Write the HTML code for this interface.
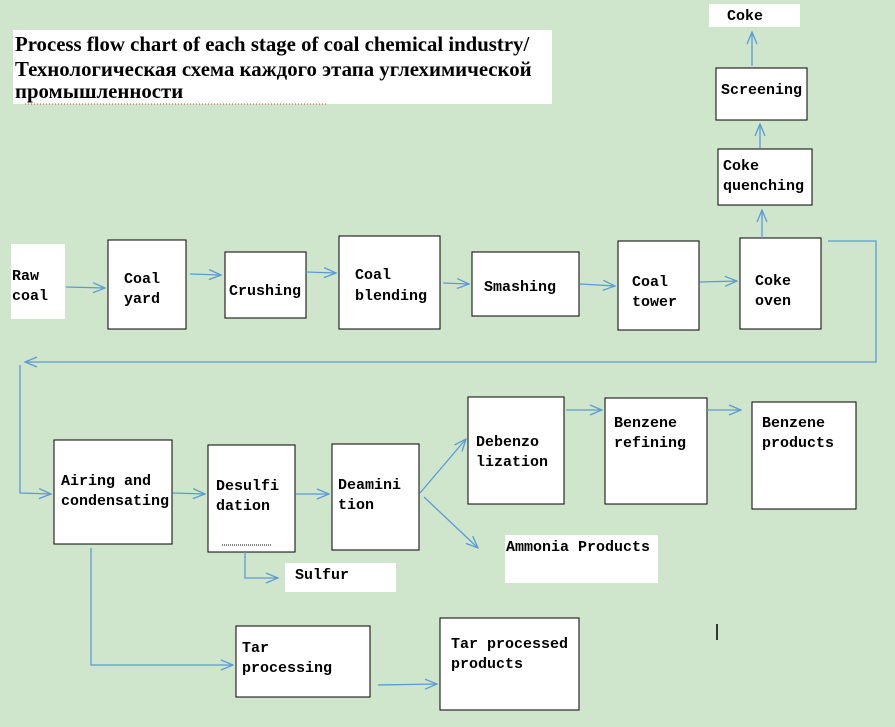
<!DOCTYPE html>
<html><head><meta charset="utf-8"><style>
body{margin:0;background:#cfe6cc;}
svg{display:block}
.t{font-family:"Liberation Mono",monospace;font-size:15px;font-weight:bold;fill:#000}
.b{fill:#fff;stroke:#000;stroke-width:1}
.w{fill:#fff}
.a{stroke:#5b9bd5;stroke-width:1.3;fill:none}
.h{font-family:'Liberation Serif',serif;font-weight:bold;font-size:20.8px}
</style></head><body>
<svg width="895" height="727" viewBox="0 0 895 727" xmlns="http://www.w3.org/2000/svg">
<defs><marker id="m" markerWidth="14" markerHeight="12" refX="13" refY="6" orient="auto" markerUnits="userSpaceOnUse"><path d="M1,1 L13,6 L1,11" fill="none" stroke="#5b9bd5" stroke-width="1.3"/></marker></defs>
<rect x="13" y="30" width="539" height="74" class="w"/>
<text class="h" x="15" y="51">Process flow chart of each stage of coal chemical industry/</text>
<text class="h" x="15" y="76">Технологическая схема каждого этапа углехимической</text>
<text class="h" x="15" y="98">промышленности</text>
<line x1="25" y1="104" x2="328" y2="104" stroke="#c44" stroke-width="1" stroke-dasharray="1,2"/>

<rect x="11" y="244" width="54" height="75" class="w"/>
<text class="t" x="12" y="280">Raw</text><text class="t" x="12" y="300">coal</text>
<rect x="108" y="240" width="78" height="89" class="b"/>
<text class="t" x="124" y="283">Coal</text><text class="t" x="124" y="303">yard</text>
<rect x="225" y="252" width="81" height="66" class="b"/>
<text class="t" x="229" y="295">Crushing</text>
<rect x="339" y="236" width="101" height="93" class="b"/>
<text class="t" x="355" y="279">Coal</text><text class="t" x="355" y="300">blending</text>
<rect x="472" y="252" width="107" height="64" class="b"/>
<text class="t" x="484" y="291">Smashing</text>
<rect x="618" y="241" width="81" height="89" class="b"/>
<text class="t" x="632" y="286">Coal</text><text class="t" x="632" y="306">tower</text>
<rect x="740" y="238" width="81" height="91" class="b"/>
<text class="t" x="755" y="285">Coke</text><text class="t" x="755" y="305">oven</text>
<rect x="718" y="149" width="94" height="56" class="b"/>
<text class="t" x="723" y="170">Coke</text><text class="t" x="723" y="190">quenching</text>
<rect x="716" y="68" width="91" height="52" class="b"/>
<text class="t" x="721" y="94">Screening</text>
<rect x="709" y="4" width="91" height="23" class="w"/>
<text class="t" x="727" y="20">Coke</text>

<rect x="54" y="440" width="118" height="104" class="b"/>
<text class="t" x="61" y="485">Airing and</text><text class="t" x="61" y="505">condensating</text>
<rect x="208" y="445" width="87" height="107" class="b"/>
<text class="t" x="216" y="490">Desulfi</text><text class="t" x="216" y="510">dation</text>
<line x1="222" y1="545" x2="272" y2="545" stroke="#000" stroke-width="1" stroke-dasharray="1,1"/>
<rect x="332" y="444" width="87" height="106" class="b"/>
<text class="t" x="338" y="489">Deamini</text><text class="t" x="338" y="509">tion</text>
<rect x="468" y="397" width="96" height="107" class="b"/>
<text class="t" x="476" y="446">Debenzo</text><text class="t" x="476" y="466">lization</text>
<rect x="605" y="398" width="102" height="106" class="b"/>
<text class="t" x="614" y="427">Benzene</text><text class="t" x="614" y="447">refining</text>
<rect x="752" y="402" width="104" height="107" class="b"/>
<text class="t" x="762" y="427">Benzene</text><text class="t" x="762" y="447">products</text>
<rect x="505" y="535" width="153" height="48" class="w"/>
<text class="t" x="506" y="551">Ammonia Products</text>
<rect x="285" y="563" width="111" height="29" class="w"/>
<text class="t" x="295" y="579">Sulfur</text>
<rect x="236" y="626" width="134" height="71" class="b"/>
<text class="t" x="242" y="652">Tar</text><text class="t" x="242" y="672">processing</text>
<rect x="440" y="618" width="139" height="92" class="b"/>
<text class="t" x="451" y="648">Tar processed</text><text class="t" x="451" y="668">products</text>
<line x1="717" y1="624" x2="717" y2="640" stroke="#000" stroke-width="1.5"/>

<g class="a">
<path d="M66,287 L105,288" marker-end="url(#m)"/>
<path d="M190,274 L221,275" marker-end="url(#m)"/>
<path d="M306,272 L336,273" marker-end="url(#m)"/>
<path d="M443,283 L469,284" marker-end="url(#m)"/>
<path d="M580,284 L615,286" marker-end="url(#m)"/>
<path d="M700,282 L737,281" marker-end="url(#m)"/>
<path d="M762,238 L762,210" marker-end="url(#m)"/>
<path d="M760,148 L760,124" marker-end="url(#m)"/>
<path d="M752,66 L752,32" marker-end="url(#m)"/>
<path d="M828,241 L876,241 L876,362 L25,362" marker-end="url(#m)"/>
<path d="M20,365 L20,493 L51,494" marker-end="url(#m)"/>
<path d="M173,493 L205,494" marker-end="url(#m)"/>
<path d="M296,494 L329,494" marker-end="url(#m)"/>
<path d="M420,493 L466,439" marker-end="url(#m)"/>
<path d="M424,497 L478,548" marker-end="url(#m)"/>
<path d="M566,410 L602,410" marker-end="url(#m)"/>
<path d="M707,410 L741,410" marker-end="url(#m)"/>
<path d="M245,552 L245,578 L278,578" marker-end="url(#m)"/>
<path d="M91,548 L91,665 L233,665" marker-end="url(#m)"/>
<path d="M378,685 L437,684" marker-end="url(#m)"/>
</g>
</svg>
</body></html>
